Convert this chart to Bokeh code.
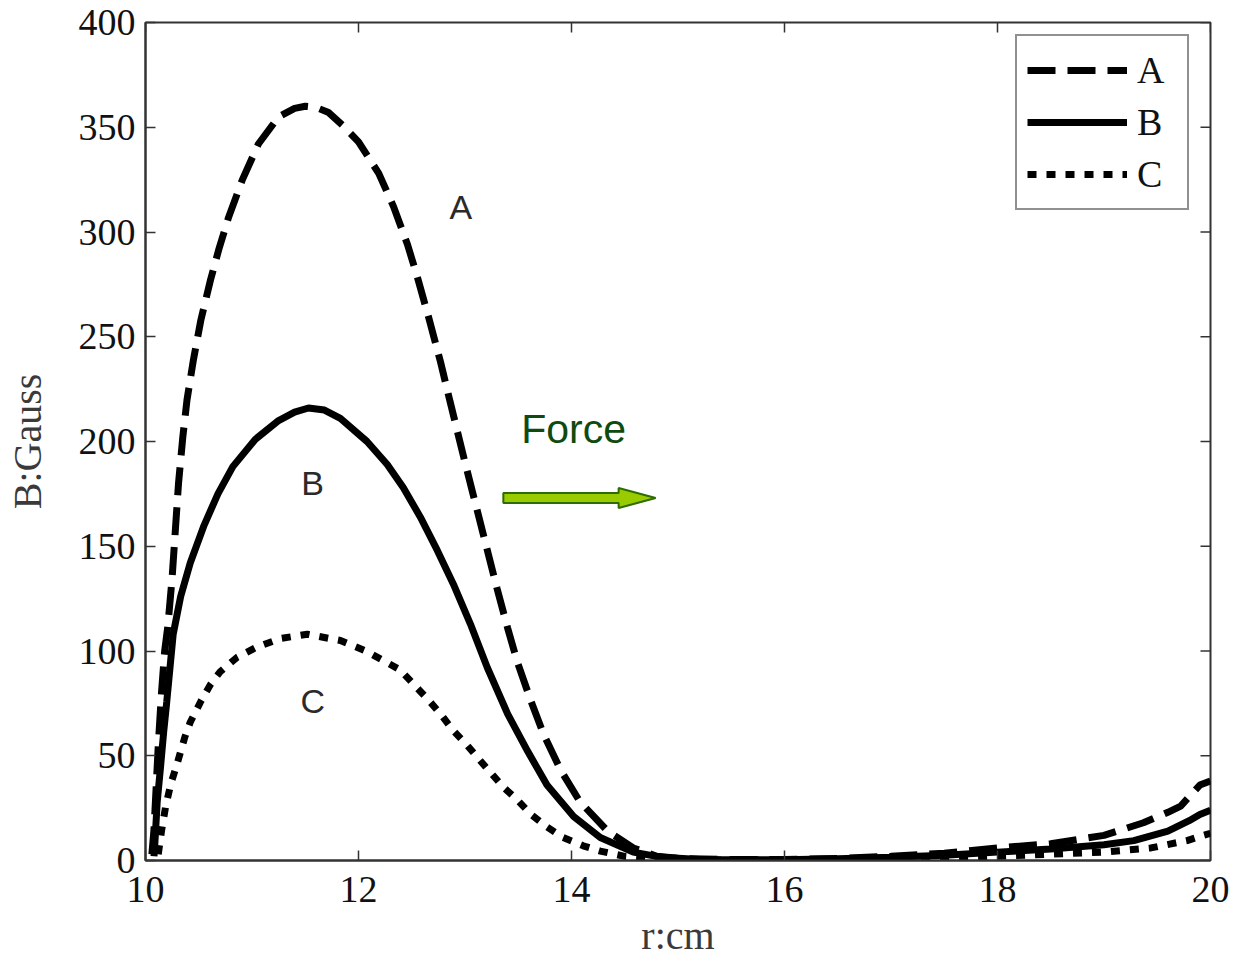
from bokeh.plotting import figure
from bokeh.models import FixedTicker, Legend, LegendItem, ColumnDataSource
from bokeh.core.properties import value
from bokeh.embed import file_html
from bokeh.resources import INLINE

# ---------------- data ----------------
A_x = [10.06, 10.08, 10.10, 10.12, 10.15, 10.18, 10.21, 10.25, 10.31, 10.35, 10.39, 10.45, 10.52,
       10.61, 10.69, 10.78, 10.91, 11.06, 11.25, 11.40, 11.50, 11.60, 11.72, 11.85, 12.00, 12.19,
       12.33, 12.46, 12.55, 12.66, 12.77, 12.86, 13.00, 13.12, 13.21, 13.30, 13.40, 13.49, 13.62,
       13.74, 13.90, 14.08, 14.34, 14.58, 14.80, 15.0, 15.5, 16.0, 16.5, 17.0, 17.5, 18.0, 18.5,
       19.0, 19.37, 19.6, 19.72, 19.9, 20.0]
A_y = [3, 15, 35, 55, 80, 100, 112, 135, 180, 202, 220, 239, 258,
       277, 292, 307, 325, 342, 355, 359, 360, 359.5, 357, 351, 343, 328,
       312, 294, 279, 259, 238, 219, 190, 166, 148, 130, 111, 95, 76,
       60, 43, 28, 14, 6, 2, 1, 0.5, 0.5, 1, 2, 3.5, 6, 8,
       12, 18, 23, 26, 36, 38]

B_x = [10.08, 10.09, 10.11, 10.14, 10.17, 10.20, 10.23, 10.26, 10.33, 10.42, 10.55, 10.68, 10.82,
       11.03, 11.25, 11.40, 11.53, 11.68, 11.83, 12.08, 12.27, 12.42, 12.58, 12.74, 12.89, 13.05,
       13.21, 13.40, 13.59, 13.77, 14.02, 14.27, 14.58, 14.85, 15.2, 16.0, 16.5, 17.0, 17.5, 18.0,
       18.5, 19.0, 19.28, 19.6, 19.8, 19.9, 20.0]
B_y = [2, 10, 28, 44, 61, 76, 92, 108, 126, 142, 160, 175, 188,
       201, 210, 214, 216, 215, 211, 200, 189, 178, 164, 148, 132, 113,
       92, 70, 52, 36, 21, 11, 4, 1.5, 0.5, 0.3, 0.8, 1.5, 2.5, 4,
       5.5, 7.5, 9.5, 14, 19, 22, 24]

C_x = [10.12, 10.15, 10.19, 10.24, 10.29, 10.33, 10.37, 10.42, 10.52, 10.61, 10.70, 10.86, 11.05,
       11.27, 11.52, 11.83, 12.07, 12.39, 12.52, 12.65, 12.77, 12.89, 13.02, 13.12, 13.24, 13.36,
       13.49, 13.62, 13.77, 13.92, 14.11, 14.27, 14.5, 14.8, 15.2, 16.0, 17.0, 17.5, 18.0, 18.5,
       19.0, 19.44, 19.78, 19.93, 20.0]
C_y = [3, 14, 26, 37, 45, 52, 59, 66, 76, 84, 90, 97, 102,
       106, 108, 105, 100, 91, 84, 77, 70, 62, 55, 49, 42, 35,
       29, 22, 16, 11, 7, 4.5, 2, 0.7, 0.3, 0.2, 0.8, 1.2, 2, 3,
       4, 6, 9.5, 12, 13]

series_names = ["A", "B", "C"]
x_ticks = [10, 12, 14, 16, 18, 20]
y_ticks = [0, 50, 100, 150, 200, 250, 300, 350, 400]

curve_labels = ["A", "B", "C"]
curve_label_x = [12.96, 11.57, 11.57]
curve_label_y = [312, 180, 76]

force_text = "Force"
force_x = 14.02
force_y = 206
arrow_x0 = 13.36
arrow_x1 = 14.79
arrow_y = 173

# ---------------- figure ----------------
W, H = 1235, 963
ML, MR, MT, MB = 145, 25, 22, 103
X0, X1, Y0, Y1 = 10, 20, 0, 400
p = figure(width=W, height=H, x_range=(X0, X1), y_range=(Y0, Y1),
           output_backend="svg", toolbar_location=None,
           min_border_left=ML, min_border_right=MR, min_border_top=MT, min_border_bottom=MB)
p.background_fill_color = "white"
p.border_fill_color = "white"
p.xgrid.visible = False
p.ygrid.visible = False
p.outline_line_color = "#333333"
p.outline_line_width = 2

fw = W - ML - MR
fh = H - MT - MB
ux = (X1 - X0) / fw
uy = (Y1 - Y0) / fh

serif = "Liberation Serif"
for ax in (p.xaxis[0], p.yaxis[0]):
    ax.major_tick_in = 10
    ax.major_tick_out = 0
    ax.minor_tick_line_color = None
    ax.major_tick_line_width = 1.5
    ax.major_tick_line_color = "#333333"
    ax.axis_line_color = "#333333"
    ax.axis_line_width = 2
    ax.major_label_text_font = serif
    ax.major_label_text_font_size = "38px"
    ax.major_label_text_color = "#111111"
    ax.axis_label_text_font = serif
    ax.axis_label_text_font_size = "40px"
    ax.axis_label_text_font_style = "normal"
    ax.axis_label_text_color = "#3a3a3a"

p.xaxis[0].ticker = FixedTicker(ticks=x_ticks)
p.yaxis[0].ticker = FixedTicker(ticks=y_ticks)
p.xaxis[0].axis_label = "r:cm"
p.yaxis[0].axis_label = "B:Gauss"
p.xaxis[0].major_label_standoff = 16
p.yaxis[0].major_label_standoff = 10
p.xaxis[0].axis_label_standoff = 8
p.yaxis[0].axis_label_standoff = 26

# inward ticks on the top and right frame edges
tick_len = 10
p.segment(x0=x_ticks, y0=[Y1] * len(x_ticks), x1=x_ticks, y1=[Y1 - tick_len * uy] * len(x_ticks),
          line_color="#333333", line_width=1.5)
p.segment(x0=[X1] * len(y_ticks), y0=y_ticks, x1=[X1 - tick_len * ux] * len(y_ticks), y1=y_ticks,
          line_color="#333333", line_width=1.5)

# ---------------- curves ----------------
rA = p.line(A_x, A_y, line_color="black", line_width=7, line_dash="28 12")
rB = p.line(B_x, B_y, line_color="black", line_width=7)
rC = p.line(C_x, C_y, line_color="black", line_width=7, line_dash="9 10")

legend = Legend(items=[LegendItem(label=series_names[0], renderers=[rA]),
                       LegendItem(label=series_names[1], renderers=[rB]),
                       LegendItem(label=series_names[2], renderers=[rC])],
                location=(870, 650))
legend.border_line_color = "#222222"
legend.border_line_width = 2
legend.background_fill_color = "white"
legend.background_fill_alpha = 1
legend.label_text_font = serif
legend.label_text_font_size = "38px"
legend.label_text_color = "#111111"
legend.glyph_width = 100
legend.glyph_height = 48
legend.label_height = 48
legend.label_width = 40
legend.label_standoff = 10
legend.padding = 10
legend.spacing = 4
legend.margin = 0
p.add_layout(legend, "center")

# ---------------- annotations ----------------
lab_src = ColumnDataSource(dict(x=curve_label_x, y=curve_label_y, t=curve_labels))
p.text(x="x", y="y", text="t", source=lab_src, text_font=value("Liberation Sans"),
       text_font_size="34px", text_color="#2a2a2a", text_align="center", text_baseline="middle")

p.text(x=[force_x], y=[force_y], text=[force_text], text_font=value("Liberation Sans"),
       text_font_size="41px", text_color="#0f4a0f", text_align="center", text_baseline="middle")

# arrow polygon (sizes in pixels converted to data units)
shaft = 5 * uy
head = 10 * uy
head_len = 37 * ux
ax_ = [arrow_x0, arrow_x1 - head_len, arrow_x1 - head_len, arrow_x1,
       arrow_x1 - head_len, arrow_x1 - head_len, arrow_x0]
ay_ = [arrow_y + shaft, arrow_y + shaft, arrow_y + head, arrow_y,
       arrow_y - head, arrow_y - shaft, arrow_y - shaft]
p.patch(ax_, ay_, fill_color="#99cc00", line_color="#2e6b00", line_width=2)

open("out.html", "w").write(file_html(p, INLINE))
